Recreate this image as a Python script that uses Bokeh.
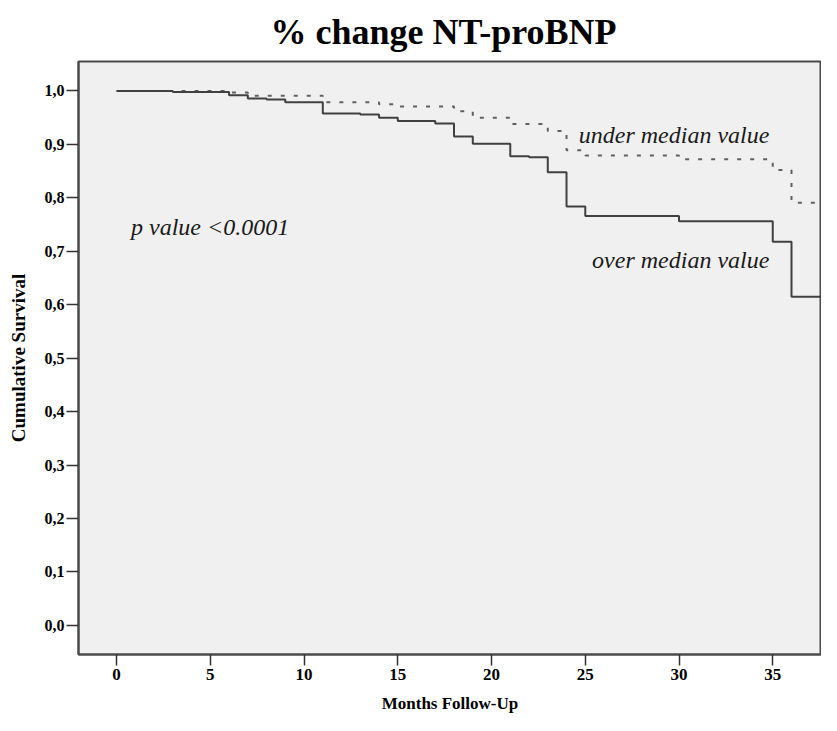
from bokeh.plotting import figure
from bokeh.models import Range1d, FixedTicker, Label
from bokeh.embed import file_html
from bokeh.resources import INLINE

# ---- data ----
months_over = [0, 3, 6, 7, 8, 9, 11, 13, 14, 15, 17, 18, 19, 21, 22, 23, 24, 25, 30, 35, 36, 38]
surv_over = [1.0, 0.998, 0.992, 0.986, 0.984, 0.979, 0.958, 0.956, 0.950, 0.944, 0.939,
             0.915, 0.901, 0.878, 0.876, 0.848, 0.784, 0.766, 0.756, 0.718, 0.615, 0.615]

months_under = [0, 6, 7, 11, 14, 15, 18, 19, 21, 23, 24, 25, 30, 35, 36, 38]
surv_under = [1.0, 0.997, 0.991, 0.979, 0.975, 0.971, 0.962, 0.950, 0.938, 0.925,
              0.889, 0.879, 0.872, 0.852, 0.791, 0.791]

x_ticks = [0, 5, 10, 15, 20, 25, 30, 35]
y_ticks = [0.0, 0.1, 0.2, 0.3, 0.4, 0.5, 0.6, 0.7, 0.8, 0.9, 1.0]
y_tick_labels = ["0,0", "0,1", "0,2", "0,3", "0,4", "0,5", "0,6", "0,7", "0,8", "0,9", "1,0"]

title_text = "% change NT-proBNP"
x_title = "Months Follow-Up"
y_title = "Cumulative Survival"
p_text = "p value <0.0001"
under_text = "under median value"
over_text = "over median value"

SERIF = "Liberation Serif"

p = figure(width=821, height=715, output_backend="svg", toolbar_location=None,
           x_range=Range1d(-2.03, 37.6), y_range=Range1d(-0.0544, 1.0551),
           min_border_left=78, min_border_right=0, min_border_top=61, min_border_bottom=60,
           background_fill_color="#f0f0f0", border_fill_color="white")

p.title.text = title_text
p.title.align = "left"
p.title.offset = 192
p.title.vertical_align = "top"
p.title.text_font = SERIF
p.title.text_font_size = "36px"
p.title.text_font_style = "bold"
p.title.text_color = "black"
p.title.standoff = 16

p.outline_line_color = "#4a4a4a"
p.outline_line_width = 2
p.xgrid.visible = False
p.ygrid.visible = False

for ax in (p.xaxis[0], p.yaxis[0]):
    ax.axis_line_color = "#4a4a4a"
    ax.axis_line_width = 2
    ax.major_tick_line_color = "#333333"
    ax.major_tick_line_width = 1.5
    ax.major_tick_in = 0
    ax.minor_tick_line_color = None
    ax.major_label_text_font = SERIF
    ax.major_label_text_font_style = "bold"
    ax.major_label_text_color = "black"
    ax.axis_label_text_font = SERIF
    ax.axis_label_text_font_style = "bold"
    ax.axis_label_text_color = "black"

p.xaxis.ticker = FixedTicker(ticks=x_ticks)
p.xaxis.major_tick_out = 11
p.xaxis.major_label_text_font_size = "17px"
p.xaxis.major_label_standoff = 3
p.xaxis.axis_label = x_title
p.xaxis.axis_label_text_font_size = "17px"
p.xaxis.axis_label_standoff = 11

p.yaxis.ticker = FixedTicker(ticks=y_ticks)
p.yaxis.major_label_overrides = {t: l for t, l in zip(y_ticks, y_tick_labels)}
p.yaxis.major_tick_out = 12
p.yaxis.major_label_text_font_size = "16px"
p.yaxis.major_label_standoff = 2
p.yaxis.axis_label = y_title
p.yaxis.axis_label_text_font_size = "19px"
p.yaxis.axis_label_standoff = 13

p.step(months_under, surv_under, mode="after", line_color="#606060", line_width=2,
       line_dash="4 9")
p.step(months_over, surv_over, mode="after", line_color="#404040", line_width=2)

for txt, x, y, align in [(p_text, 0.77, 0.745, "left"),
                         (under_text, 34.82, 0.918, "right"),
                         (over_text, 34.82, 0.684, "right")]:
    p.add_layout(Label(x=x, y=y, text=txt, text_font=SERIF, text_font_style="italic",
                       text_font_size="24px", text_color="#1a1a1a", text_align=align,
                       text_baseline="alphabetic"))

open("out.html", "w").write(file_html(p, INLINE))
